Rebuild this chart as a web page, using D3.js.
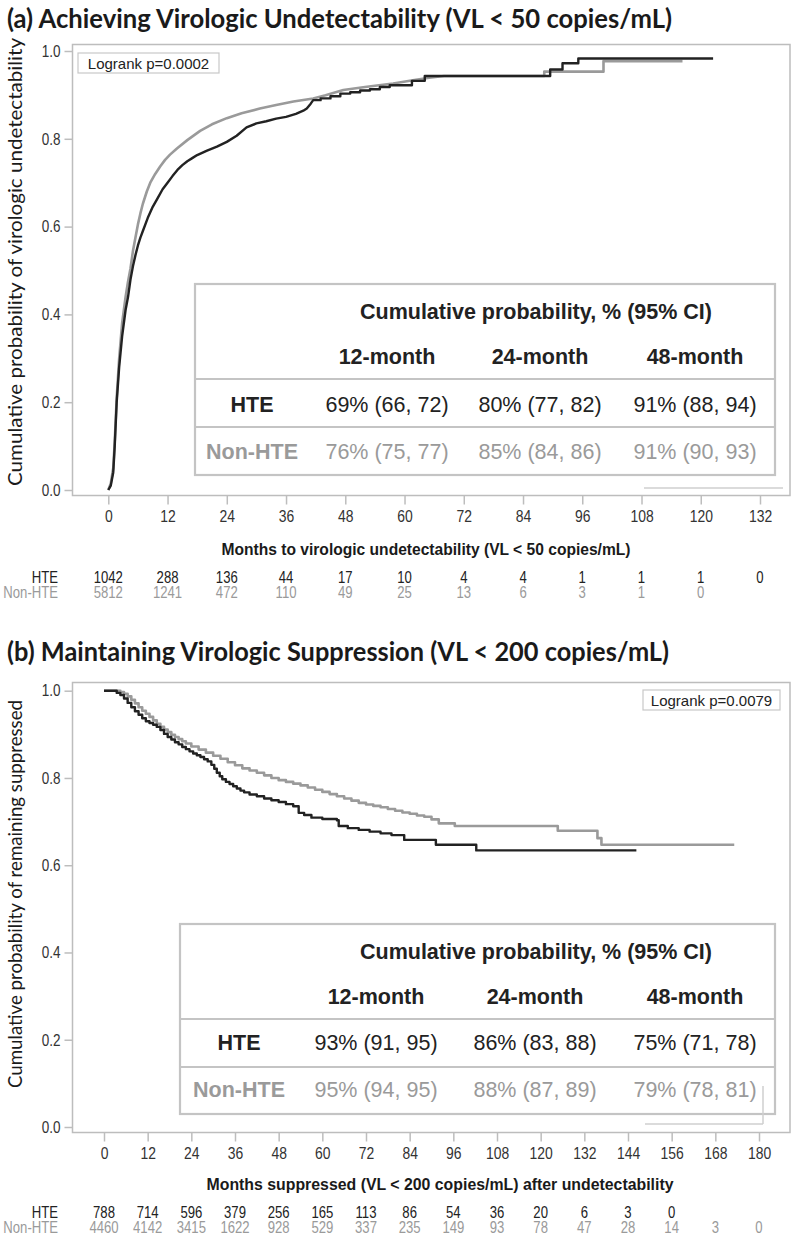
<!DOCTYPE html>
<html><head><meta charset="utf-8">
<script src="https://cdn.jsdelivr.net/npm/d3@7"></script>
<style>body{margin:0;background:#fff}</style>
</head><body><svg id="c" width="792" height="1241"></svg>
<script>
// ---------- DATA ----------
// Panel (a): traced vertices of the cumulative-probability lines  [month, probability]
const hteA = [[0,0],[0.5,0.01],[1,0.04],[1.3,0.1],[1.7,0.2],[2.2,0.28],[2.8,0.35],[3.5,0.41],[4,0.44],[4.5,0.48],[5,0.51],[5.5,0.535],[6,0.557],[6.5,0.575],[7,0.59],[8,0.62],[9,0.645],[10,0.665],[11,0.685],[12,0.70],[13,0.715],[14,0.729],[15,0.74],[16,0.749],[17,0.756],[18,0.763],[20,0.773],[22,0.782],[24,0.793],[26,0.807],[28,0.826],[30,0.835],[32,0.840],[34,0.846],[36,0.850],[38,0.857],[39.5,0.864],[40.2,0.869],[41,0.88],[41.5,0.888],[43,0.888],[43,0.892],[45,0.892],[45,0.897],[47,0.897],[47,0.903],[49,0.903],[49,0.906],[51,0.906],[51,0.910],[53,0.910],[53,0.913],[55,0.913],[55,0.918],[57,0.918],[57,0.922],[61.5,0.922],[61.5,0.932],[64.1,0.932],[64.1,0.943],[89.5,0.943],[89.5,0.958],[92,0.958],[92,0.972],[95.2,0.972],[95.2,0.983],[122.5,0.983]];
const nonA = [[0,0],[0.5,0.015],[1,0.05],[1.3,0.11],[1.7,0.21],[2.2,0.30],[2.8,0.38],[3.5,0.44],[4,0.475],[4.5,0.505],[5,0.545],[5.5,0.575],[6,0.605],[6.5,0.63],[7,0.652],[7.8,0.68],[8.5,0.70],[9.5,0.72],[10.5,0.737],[11.5,0.752],[12.5,0.764],[13.9,0.778],[16,0.797],[18.6,0.818],[21,0.833],[24,0.847],[27,0.858],[30.7,0.869],[34,0.877],[37.5,0.885],[41.5,0.892],[44,0.899],[47.6,0.911],[52,0.918],[57.7,0.926],[62,0.934],[65,0.939],[68,0.943],[88.3,0.943],[88.3,0.953],[100.3,0.953],[100.3,0.977],[116.3,0.977]];
// Panel (b): step points (value after each step)
const hteB = [[0,1],[2.5,1],[3.5,0.995],[4.5,0.99],[5.5,0.982],[6.5,0.972],[7.5,0.962],[8.5,0.953],[9.5,0.945],[10.5,0.937],[11.5,0.93],[12.5,0.926],[13.5,0.922],[14.5,0.917],[15.5,0.91],[16.5,0.901],[17.5,0.894],[18.5,0.888],[19.5,0.882],[20.5,0.877],[21.5,0.871],[22.5,0.866],[23.5,0.861],[24.5,0.856],[25.5,0.852],[26.5,0.848],[27.5,0.843],[28.5,0.838],[29.5,0.830],[30.3,0.821],[31,0.812],[31.8,0.804],[32.5,0.797],[33.5,0.791],[34.5,0.786],[35.5,0.781],[36.5,0.776],[37.5,0.771],[38.5,0.767],[40,0.762],[42,0.758],[44,0.753],[46,0.749],[48,0.745],[50,0.74],[52,0.735],[53.5,0.72],[55,0.715],[57,0.709],[60,0.706],[64,0.703],[64.5,0.69],[67,0.685],[70,0.681],[73,0.677],[76,0.673],[79,0.669],[82.5,0.658],[91.2,0.647],[102.3,0.634],[146.3,0.634]];
const nonB = [[0,1],[3.6,1],[4.5,0.997],[5.5,0.993],[6.5,0.987],[7.5,0.979],[8.5,0.971],[9.5,0.962],[10.5,0.954],[11.5,0.947],[12.5,0.94],[13.5,0.932],[14.5,0.924],[15.5,0.917],[16.5,0.911],[17.5,0.905],[18.5,0.899],[19.5,0.894],[20.5,0.889],[21.5,0.884],[22.5,0.879],[24,0.872],[26,0.865],[28,0.858],[30,0.851],[32,0.844],[34,0.836],[36,0.829],[38,0.822],[40,0.817],[42,0.812],[44,0.806],[46,0.800],[48,0.795],[50,0.791],[52,0.787],[54,0.783],[56,0.778],[58,0.773],[60,0.768],[62,0.763],[64,0.758],[66,0.753],[68,0.748],[70,0.743],[72,0.739],[74,0.736],[76,0.733],[78,0.729],[80,0.725],[82,0.721],[84,0.718],[86,0.714],[88,0.711],[90,0.705],[92,0.696],[96.4,0.69],[124.7,0.679],[135.6,0.662],[136.7,0.647],[173.2,0.647]];

const xTicksA = [0,12,24,36,48,60,72,84,96,108,120,132];
const xTicksB = [0,12,24,36,48,60,72,84,96,108,120,132,144,156,168,180];
const yTicks = [0.0,0.2,0.4,0.6,0.8,1.0];

const riskA_HTE = [1042,288,136,44,17,10,4,4,1,1,1,0];
const riskA_Non = [5812,1241,472,110,49,25,13,6,3,1,0];
const riskB_HTE = [788,714,596,379,256,165,113,86,54,36,20,6,3,0];
const riskB_Non = [4460,4142,3415,1622,928,529,337,235,149,93,78,47,28,14,3,0];

const groups = ["HTE","Non-HTE"];
const tableCols = ["12-month","24-month","48-month"];
const tableA_HTE = ["69% (66, 72)","80% (77, 82)","91% (88, 94)"];
const tableA_Non = ["76% (75, 77)","85% (84, 86)","91% (90, 93)"];
const tableB_HTE = ["93% (91, 95)","86% (83, 88)","75% (71, 78)"];
const tableB_Non = ["95% (94, 95)","88% (87, 89)","79% (78, 81)"];
const tableTitle = "Cumulative probability, % (95% CI)";

const titleA = "(a) Achieving Virologic Undetectability (VL < 50 copies/mL)";
const titleB = "(b) Maintaining Virologic Suppression (VL < 200 copies/mL)";
const yLabelA = "Cumulative probability of virologic undetectability";
const yLabelB = "Cumulative probability of remaining suppressed";
const xLabelA = "Months to virologic undetectability (VL < 50 copies/mL)";
const xLabelB = "Months suppressed (VL < 200 copies/mL) after undetectability";
const pA = "Logrank p=0.0002";
const pB = "Logrank p=0.0079";

// ---------- STYLE ----------
const BLACK = "#222", GRAY = "#9a9a9a", FRAME = "#bdbdbd";
const SANS = "'Liberation Sans',Arial,sans-serif";
const HUM = "Lato,'Open Sans',sans-serif";
const NARROWF = 0.82;

const svg = d3.select("#c");

function narrowText(parent, x, y, s, size, col, anchor, bold) {
  return parent.append("text").attr("transform",`translate(${x},${y}) scale(${NARROWF},1)`)
    .attr("text-anchor",anchor).attr("dominant-baseline","central").text(s)
    .attr("font-family",SANS).attr("font-size",size).attr("fill",col)
    .attr("font-weight",bold?"bold":"normal");
}

function panel(o) {
  const g = svg.append("g");
  const x = d3.scaleLinear().domain([0, o.xTicks[o.xTicks.length-1]]).range([o.x0, o.x1]);
  const y = d3.scaleLinear().domain([0,1]).range([o.y0, o.y1]);

  // title
  g.append("text").attr("x",7).attr("y",o.titleY).text(o.title)
    .attr("font-family",HUM).attr("font-weight","bold").attr("font-size",26.5)
    .attr("fill","#1a1a1a").attr("textLength",o.titleW).attr("lengthAdjust","spacingAndGlyphs");
  // y label
  g.append("text").attr("transform",`translate(${o.ylabX},${o.ylabY}) rotate(-90)`)
    .attr("text-anchor","middle").attr("dominant-baseline","central").text(o.yLabel)
    .attr("font-family",HUM).attr("font-size",19).attr("fill","#1a1a1a")
    .attr("textLength",o.ylabW).attr("lengthAdjust","spacingAndGlyphs");

  // frame
  g.append("rect").attr("x",o.fl).attr("y",o.ft).attr("width",o.fr-o.fl).attr("height",o.fb-o.ft)
    .attr("fill","none").attr("stroke",FRAME).attr("stroke-width",1.5);

  // y axis
  const ya = g.append("g").attr("transform",`translate(${o.fl},0)`)
    .call(d3.axisLeft(y).tickValues(yTicks).tickFormat(d3.format(".1f")).tickSize(8).tickPadding(4));
  ya.select(".domain").remove();
  ya.selectAll("line").attr("stroke",FRAME).attr("stroke-width",1.5);
  ya.selectAll("text").attr("font-family",SANS).attr("font-size",16.5).attr("fill","#333")
    .attr("transform",`scale(${NARROWF},1)`).attr("x",-12/NARROWF);

  // x axis
  const xa = g.append("g").attr("transform",`translate(0,${o.fb})`)
    .call(d3.axisBottom(x).tickValues(o.xTicks).tickFormat(d3.format("d")).tickSize(9).tickPadding(5));
  xa.select(".domain").remove();
  xa.selectAll("line").attr("stroke",FRAME).attr("stroke-width",1.5);
  xa.selectAll("text").attr("font-family",SANS).attr("font-size",17).attr("fill","#333")
    .attr("transform",`scale(${NARROWF},1)`);

  g.append("text").attr("x",o.xlabX).attr("y",o.xlabY).attr("text-anchor","middle")
    .attr("dominant-baseline","central").text(o.xLabel)
    .attr("font-family",SANS).attr("font-weight","bold").attr("font-size",16).attr("fill","#1a1a1a")
    .attr("textLength",o.xlabW).attr("lengthAdjust","spacingAndGlyphs");

  // logrank box
  const lb = g.append("g");
  lb.append("rect").attr("x",o.lbx).attr("y",o.lby).attr("width",o.lbw).attr("height",20)
    .attr("fill","#fff").attr("stroke","#c8c8c8").attr("stroke-width",1.2);
  lb.append("text").attr("x",o.lbx+o.lbw/2).attr("y",o.lby+10.5).attr("text-anchor","middle")
    .attr("dominant-baseline","central").text(o.pText)
    .attr("font-family",SANS).attr("font-size",15).attr("fill","#222");

  // curves
  const line = d3.line().x(d=>x(d[0])).y(d=>y(d[1])).curve(o.curve);
  g.append("path").datum(o.non).attr("d",line).attr("fill","none").attr("stroke",GRAY)
    .attr("stroke-width",2.6).attr("stroke-linejoin","round");
  g.append("path").datum(o.hte).attr("d",line).attr("fill","none").attr("stroke",BLACK)
    .attr("stroke-width",2.4).attr("stroke-linejoin","round");

  // inset table
  const t = o.tab;
  const tg = g.append("g");
  tg.append("rect").attr("x",t.l).attr("y",t.t).attr("width",t.r-t.l).attr("height",t.b-t.t)
    .attr("fill","#fff").attr("stroke","#c4c4c4").attr("stroke-width",2.2);
  [t.l1,t.l2].forEach(yy => tg.append("line").attr("x1",t.l).attr("x2",t.r).attr("y1",yy).attr("y2",yy)
    .attr("stroke","#c4c4c4").attr("stroke-width",2.2));
  const tt = (xx,yy,s,bold,col) => tg.append("text").attr("x",xx).attr("y",yy).attr("text-anchor","middle")
    .attr("dominant-baseline","central").text(s).attr("font-family",SANS).attr("font-size",21.5)
    .attr("font-weight",bold?"bold":"normal").attr("fill",col);
  tt(t.titleX,t.titleY,tableTitle,true,BLACK);
  tableCols.forEach((c,i)=>tt(t.cx[i],t.colY,c,true,BLACK));
  tt(t.rowX,t.r1,groups[0],true,BLACK);
  tt(t.rowX,t.r2,groups[1],true,GRAY);
  o.tHTE.forEach((s,i)=>tt(t.cx[i],t.r1,s,false,BLACK));
  o.tNon.forEach((s,i)=>tt(t.cx[i],t.r2,s,false,GRAY));

  // artifact lines
  o.extra.forEach(l => g.append("line").attr("x1",l[0]).attr("y1",l[1]).attr("x2",l[2]).attr("y2",l[3])
     .attr("stroke","#cfcfcf").attr("stroke-width",1.5));

  // risk table
  const rk = (yy,name,vals,col) => {
    narrowText(g,58,yy,name,16,col,"end",false);
    vals.forEach((d,i)=>narrowText(g,x(o.xTicks[i]),yy,d,16,col,"middle",false));
  };
  rk(o.rY1,groups[0],o.rHTE,BLACK);
  rk(o.rY2,groups[1],o.rNon,GRAY);
}

panel({
  title:titleA, titleY:28, titleW:665, yLabel:yLabelA, ylabX:14, ylabY:262, ylabW:448,
  xTicks:xTicksA, x0:108.3, x1:760, y0:490, y1:51,
  fl:72.5, fr:790, ft:44.5, fb:495.5,
  xLabel:xLabelA, xlabX:426, xlabY:549, xlabW:409,
  pText:pA, lbx:78, lby:53, lbw:141,
  hte:hteA, non:nonA, curve:d3.curveLinear,
  extra:[[644,488,783,488]],
  tab:{l:195,r:775,t:284,b:475,l1:379,l2:427,titleX:536,titleY:312,colY:357,cx:[387,540,695],rowX:252,r1:405,r2:452},
  tHTE:tableA_HTE, tNon:tableA_Non,
  rHTE:riskA_HTE, rNon:riskA_Non, rY1:577.5, rY2:592.5
});

panel({
  title:titleB, titleY:661, titleW:662, yLabel:yLabelB, ylabX:14, ylabY:894, ylabW:388,
  xTicks:xTicksB, x0:104, x1:759, y0:1127, y1:690.7,
  fl:72.5, fr:790, ft:682.5, fb:1132.5,
  xLabel:xLabelB, xlabX:440, xlabY:1184, xlabW:467,
  pText:pB, lbx:643, lby:690, lbw:137,
  hte:hteB, non:nonB, curve:d3.curveStepAfter,
  extra:[[645,1124,763,1124],[763,1086,763,1124]],
  tab:{l:180,r:775,t:924,b:1114,l1:1019,l2:1067,titleX:536,titleY:952,colY:997,cx:[376,535,695],rowX:239,r1:1043,r2:1090},
  tHTE:tableB_HTE, tNon:tableB_Non,
  rHTE:riskB_HTE, rNon:riskB_Non, rY1:1212.5, rY2:1227.5
});
</script></body></html>
